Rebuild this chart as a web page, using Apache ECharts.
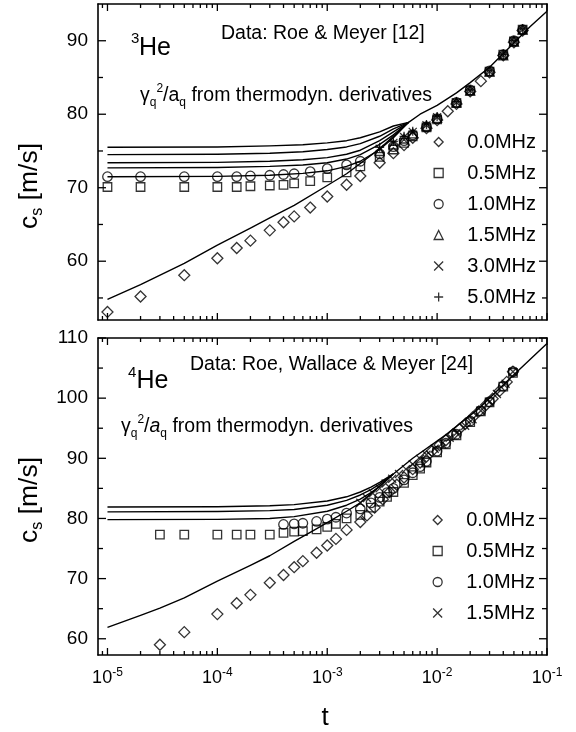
<!DOCTYPE html>
<html>
<head>
<meta charset="utf-8">
<script src="https://cdn.jsdelivr.net/npm/echarts@6/dist/echarts.min.js"></script>
<style>
html, body { margin: 0; padding: 0; background: #fff; }
#chart { width: 576px; height: 732px; }
</style>
</head>
<body>
<div id="chart"></div>
<script>
// Sound velocity c_s versus reduced temperature t for 3He (top) and 4He (bottom)
const FONT = '"Liberation Sans", Arial, Helvetica, sans-serif';

// ---- axes ----
const X_MIN = 8.2e-6, X_MAX = 0.1;
const TOP_MIN = 52, TOP_MAX = 95;
const BOT_MIN = 57.3, BOT_MAX = 110;
const yLabelsTop = [60, 70, 80, 90];
const yMinorTop = [55, 65, 75, 85];
const yLabelsBot = [60, 70, 80, 90, 100, 110];
const yMinorBot = [65, 75, 85, 95, 105];
const xMajorTicks = [1e-5, 1e-4, 1e-3, 1e-2, 1e-1];
const xMinorMultipliers = [2, 3, 4, 5, 6, 7, 8, 9];
const xDecades = [1e-5, 1e-4, 1e-3, 1e-2];
const xMinorExtra = [9e-6];

const freqTop = ['0.0MHz', '0.5MHz', '1.0MHz', '1.5MHz', '3.0MHz', '5.0MHz'];
const freqBot = ['0.0MHz', '0.5MHz', '1.0MHz', '1.5MHz'];

// ---- 3He data ----
const he3_00_t = [1e-5, 2e-5, 5e-5, 1e-4, 1.5e-4, 2e-4, 3e-4, 4e-4, 5e-4, 7e-4, 1e-3, 1.5e-3, 2e-3, 3e-3, 4e-3, 5e-3, 6e-3, 8e-3, 1e-2, 1.25e-2, 1.5e-2, 2e-2, 2.5e-2, 3e-2, 4e-2, 5e-2, 6e-2];
const he3_00_c = [53.1, 55.2, 58.1, 60.4, 61.8, 62.8, 64.2, 65.3, 66.1, 67.3, 68.8, 70.4, 71.6, 73.4, 74.7, 75.8, 76.8, 78.1, 79.2, 80.4, 81.4, 83.1, 84.5, 85.7, 88.0, 89.8, 91.4];
const he3_lo_t = [1e-5, 2e-5, 5e-5, 1e-4, 1.5e-4, 2e-4, 3e-4, 4e-4, 5e-4, 7e-4, 1e-3, 1.5e-3, 2e-3, 3e-3, 4e-3, 5e-3, 6e-3, 8e-3, 1e-2, 1.5e-2, 2e-2, 3e-2, 4e-2, 5e-2, 6e-2];
const he3_05_c = [70.1, 70.1, 70.1, 70.1, 70.1, 70.2, 70.3, 70.4, 70.6, 70.9, 71.4, 72.1, 72.9, 74.2, 75.2, 76.1, 77.0, 78.2, 79.3, 81.5, 83.2, 85.8, 88.1, 89.9, 91.5];
const he3_10_c = [71.5, 71.5, 71.5, 71.5, 71.5, 71.6, 71.7, 71.8, 71.9, 72.2, 72.6, 73.1, 73.6, 74.6, 75.6, 76.4, 77.2, 78.3, 79.4, 81.6, 83.3, 85.9, 88.1, 90.0, 91.5];
const he3_hi_t = [3e-3, 4e-3, 5e-3, 6e-3, 8e-3, 1e-2, 1.5e-2, 2e-2, 3e-2, 4e-2, 5e-2, 6e-2];
const he3_15_c = [75.0, 75.9, 76.7, 77.4, 78.4, 79.5, 81.6, 83.2, 85.8, 88.0, 89.9, 91.5];
const he3_30_c = [75.3, 76.1, 76.9, 77.6, 78.5, 79.6, 81.6, 83.2, 85.8, 88.0, 89.9, 91.5];
const he3_50_c = [75.5, 76.3, 77.0, 77.7, 78.6, 79.7, 81.7, 83.3, 85.9, 88.1, 90.0, 91.6];

// 3He model curves (gamma_q^2/a_q from thermodynamic derivatives)
const he3_fit0_t = [1e-5, 2e-5, 5e-5, 1e-4, 2e-4, 3e-4, 5e-4, 1e-3, 1.5e-3, 2e-3, 3e-3, 4e-3, 5.5e-3];
const he3_fit0_c = [54.8, 56.8, 59.7, 62.2, 64.5, 65.9, 67.6, 70.3, 71.9, 73.3, 75.3, 77.0, 78.9];
const he3_fitf_t = [1e-5, 1e-4, 3e-4, 6e-4, 1e-3, 1.5e-3, 2e-3, 3e-3, 4e-3, 5.5e-3];
const he3_fitA_c = [71.5, 71.55, 71.7, 71.95, 72.3, 72.9, 73.6, 75.2, 76.8, 78.9];
const he3_fitB_c = [72.7, 72.75, 72.9, 73.1, 73.4, 73.9, 74.5, 75.9, 77.2, 78.9];
const he3_fitC_c = [73.4, 73.45, 73.6, 73.8, 74.1, 74.55, 75.1, 76.4, 77.6, 78.9];
const he3_fitD_c = [74.5, 74.55, 74.7, 74.9, 75.2, 75.55, 76.0, 77.0, 78.0, 78.9];
const he3_fitE_c = [75.5, 75.55, 75.7, 75.85, 76.1, 76.4, 76.8, 77.6, 78.4, 78.9];
const he3_tail_t = [5.5e-3, 7e-3, 1e-2, 1.5e-2, 2e-2, 3e-2, 5e-2, 7e-2, 1e-1];
const he3_tail_c = [78.9, 80.0, 81.2, 82.9, 84.3, 86.4, 89.7, 91.9, 94.0];

// ---- 4He data ----
const he4_00_t = [3e-5, 5e-5, 1e-4, 1.5e-4, 2e-4, 3e-4, 4e-4, 5e-4, 6e-4, 8e-4, 1e-3, 1.2e-3, 1.5e-3, 2e-3, 2.3e-3, 2.7e-3, 3.2e-3, 3.7e-3, 4.3e-3, 5e-3, 6e-3, 7e-3, 8e-3, 9e-3, 1.05e-2, 1.2e-2, 1.4e-2, 1.6e-2, 1.8e-2, 2.1e-2, 2.4e-2, 2.8e-2, 3.2e-2, 3.7e-2, 4.3e-2, 4.9e-2];
const he4_00_c = [59.0, 61.1, 64.1, 65.9, 67.3, 69.3, 70.6, 71.9, 72.9, 74.3, 75.5, 76.6, 78.1, 79.4, 80.5, 81.8, 83.2, 84.4, 85.6, 86.8, 88.2, 89.3, 90.3, 91.2, 92.2, 93.0, 94.0, 94.9, 95.7, 96.8, 97.8, 98.9, 99.9, 101.2, 102.7, 104.4];
const he4_05_t = [3e-5, 5e-5, 1e-4, 1.5e-4, 2e-4, 3e-4, 4e-4, 5e-4, 6e-4, 8e-4, 1e-3, 1.2e-3, 1.5e-3, 2e-3, 2.5e-3, 3e-3, 3.5e-3, 4e-3, 5e-3, 6e-3, 7e-3, 8e-3, 1e-2, 1.2e-2, 1.5e-2, 2e-2, 2.5e-2, 3e-2, 4e-2, 4.9e-2];
const he4_05_c = [77.3, 77.3, 77.3, 77.3, 77.3, 77.3, 77.6, 77.8, 77.9, 78.2, 78.6, 79.1, 80.0, 80.6, 81.8, 82.8, 83.6, 84.4, 85.9, 87.2, 88.3, 89.3, 91.0, 92.3, 93.8, 96.0, 97.8, 99.3, 101.9, 104.2];
const he4_10_t = [4e-4, 5e-4, 6e-4, 8e-4, 1e-3, 1.2e-3, 1.5e-3, 2e-3, 2.5e-3, 3e-3, 3.5e-3, 4e-3, 5e-3, 6e-3, 7e-3, 8e-3, 1e-2, 1.2e-2, 1.5e-2, 2e-2, 2.5e-2, 3e-2, 4e-2, 4.9e-2];
const he4_10_c = [79.0, 79.1, 79.2, 79.5, 79.9, 80.2, 80.9, 81.6, 82.6, 83.5, 84.3, 85.0, 86.4, 87.6, 88.6, 89.5, 91.2, 92.5, 94.0, 96.2, 97.9, 99.4, 102.0, 104.4];
const he4_15_t = [2e-3, 2.3e-3, 2.6e-3, 3e-3, 3.4e-3, 3.9e-3, 4.5e-3, 5.2e-3, 6e-3, 7e-3, 8e-3, 9.5e-3, 1.1e-2, 1.3e-2, 1.5e-2, 1.8e-2, 2.1e-2, 2.5e-2, 3e-2, 3.5e-2, 4.2e-2, 4.9e-2];
const he4_15_c = [82.6, 83.4, 84.2, 85.0, 85.8, 86.6, 87.4, 88.2, 89.0, 89.9, 90.6, 91.6, 92.4, 93.4, 94.2, 95.4, 96.5, 97.9, 99.4, 100.7, 102.4, 104.4];

// 4He model curves
const he4_fit0_t = [1e-5, 2e-5, 3e-5, 5e-5, 1e-4, 2e-4, 3e-4, 5e-4, 7e-4, 1e-3, 1.5e-3, 2e-3, 3e-3, 4e-3];
const he4_fit0_c = [61.9, 63.9, 65.1, 66.8, 69.6, 72.2, 73.8, 76.2, 77.7, 79.3, 81.2, 82.6, 85.4, 87.4];
const he4_fitf_t = [1e-5, 1e-4, 3e-4, 5e-4, 1e-3, 1.5e-3, 2e-3, 2.5e-3, 3e-3, 4e-3];
const he4_fitA_c = [79.8, 79.85, 80.0, 80.3, 81.2, 82.2, 83.2, 84.3, 85.3, 87.4];
const he4_fitB_c = [81.1, 81.15, 81.3, 81.5, 82.2, 83.0, 83.9, 84.8, 85.7, 87.4];
const he4_fitC_c = [81.9, 81.95, 82.1, 82.3, 82.9, 83.6, 84.4, 85.2, 86.0, 87.4];
const he4_tail_t = [4e-3, 6e-3, 1.2e-2, 2.4e-2, 4.8e-2, 1e-1];
const he4_tail_c = [87.4, 90.0, 93.9, 98.3, 103.6, 109.1];

// ---- helpers ----
const zip = (t, c) => t.map((v, i) => [v, c[i]]);
const HOLLOW = { color: 'rgba(0,0,0,0)', borderColor: '#000', borderWidth: 1.3 };
const CROSS = 'path://M0,0L10,10M10,0L0,10';
const PLUS = 'path://M5,0L5,10M0,5L10,5';
const SYM_TOP = {
  '0.0MHz': ['diamond', 11], '0.5MHz': ['rect', 8.5], '1.0MHz': ['circle', 9.5],
  '1.5MHz': ['triangle', 9], '3.0MHz': [CROSS, 8], '5.0MHz': [PLUS, 9]
};
const SYM_BOT = {
  '0.0MHz': ['diamond', 11], '0.5MHz': ['rect', 8.5], '1.0MHz': ['circle', 9.5], '1.5MHz': [CROSS, 8]
};
// series names carry a panel tag after '|'; the legends print only the frequency
const tag = (f, g) => f + '|' + (g === 0 ? '3He' : '4He');

function scatter(freq, grid, data) {
  const s = (grid === 0 ? SYM_TOP : SYM_BOT)[freq];
  return {
    type: 'scatter', name: tag(freq, grid), data,
    xAxisIndex: grid * 2, yAxisIndex: grid * 2,
    symbol: s[0], symbolSize: s[1],
    itemStyle: HOLLOW, silent: true, z: 3
  };
}
function curve(grid, data) {
  return {
    type: 'line', name: 'model', data,
    xAxisIndex: grid * 2, yAxisIndex: grid * 2,
    symbol: 'none', smooth: false,
    lineStyle: { color: '#000', width: 1.4, join: 'round' }, silent: true, z: 2
  };
}

// frame ticks drawn inward on all four sides of a panel
const xMinorTicks = xMinorExtra.concat(...xDecades.map(d => xMinorMultipliers.map(m => m * d)));
function tickData(yLo, yMajor, yMinor) {
  return [].concat(
    xMajorTicks.map(t => [t, yLo, 0]),
    xMinorTicks.map(t => [t, yLo, 1]),
    yMajor.map(v => [X_MIN, v, 2]),
    yMinor.map(v => [X_MIN, v, 3])
  );
}
function tickSeries(grid, yLo, yMajor, yMinor) {
  return {
    type: 'custom', name: 'ticks', silent: true, z: 5,
    xAxisIndex: grid * 2, yAxisIndex: grid * 2,
    data: tickData(yLo, yMajor, yMinor),
    renderItem: function (params, api) {
      const cs = params.coordSys;
      const kind = api.value(2);
      const st = { stroke: '#000', lineWidth: 1.3 };
      const out = [];
      if (kind < 2) {
        const len = kind === 0 ? 7 : 4;
        const px = api.coord([api.value(0), yLo])[0];
        const yb = cs.y + cs.height, yt = cs.y;
        out.push({ type: 'line', shape: { x1: px, y1: yb, x2: px, y2: yb - len }, style: st });
        out.push({ type: 'line', shape: { x1: px, y1: yt, x2: px, y2: yt + len }, style: st });
      } else {
        const len = kind === 2 ? 8 : 5;
        const py = api.coord([X_MIN, api.value(1)])[1];
        const xl = cs.x, xr = cs.x + cs.width;
        out.push({ type: 'line', shape: { x1: xl, y1: py, x2: xl + len, y2: py }, style: st });
        out.push({ type: 'line', shape: { x1: xr, y1: py, x2: xr - len, y2: py }, style: st });
      }
      return { type: 'group', children: out };
    }
  };
}

const AXIS_LINE = { show: true, onZero: false, lineStyle: { color: '#000', width: 1.6 } };
function xAxis(grid, pos, showLabels) {
  return {
    type: 'log', logBase: 10, gridIndex: grid, position: pos,
    min: X_MIN, max: X_MAX,
    axisLine: AXIS_LINE, axisTick: { show: false }, minorTick: { show: false },
    splitLine: { show: false }, minorSplitLine: { show: false },
    axisLabel: showLabels ? {
      show: true, margin: 12, color: '#000',
      formatter: function (v) {
        const e = Math.log10(v);
        const r = Math.round(e);
        if (Math.abs(e - r) > 1e-6) return '';
        return '{b|10}{s|' + r + '}';
      },
      rich: {
        b: { fontSize: 18, lineHeight: 22, fontFamily: FONT, color: '#000' },
        s: { fontSize: 12, lineHeight: 12, verticalAlign: 'top', fontFamily: FONT, color: '#000' }
      }
    } : { show: false }
  };
}
function yAxis(grid, pos, min, max, labels) {
  return {
    type: 'value', gridIndex: grid, position: pos, min, max,
    axisLine: AXIS_LINE, axisTick: { show: false }, splitLine: { show: false },
    axisLabel: labels ? {
      show: true, customValues: labels, margin: 10,
      fontSize: 19, fontFamily: FONT, color: '#000'
    } : { show: false }
  };
}

// rich text pieces
const RICH = {
  n: { fontSize: 19.5, lineHeight: 26, fontFamily: FONT, fill: '#000' },
  ni: { fontSize: 19.5, lineHeight: 26, fontFamily: FONT, fontStyle: 'italic', fill: '#000' },
  sub: { fontSize: 12, lineHeight: 12, verticalAlign: 'bottom', fontFamily: FONT, fill: '#000' },
  sup: { fontSize: 12, lineHeight: 12, verticalAlign: 'top', fontFamily: FONT, fill: '#000' },
  big: { fontSize: 26.5, lineHeight: 32, fontFamily: FONT, fill: '#000' },
  bsub: { fontSize: 16, lineHeight: 16, verticalAlign: 'bottom', fontFamily: FONT, fill: '#000' }
};
function label(x, y, text, opts) {
  opts = opts || {};
  return {
    type: 'text', x: x, y: y, rotation: opts.rotation || 0, silent: true, z: 10,
    style: {
      text: text, rich: RICH,
      fontSize: opts.fontSize || 19.5, fontFamily: FONT, fill: '#000',
      align: opts.align || 'left', verticalAlign: 'middle'
    }
  };
}

const chart = echarts.init(document.getElementById('chart'), null, { renderer: 'canvas' });

const series = [
  // 3He panel
  curve(0, zip(he3_fit0_t, he3_fit0_c)),
  curve(0, zip(he3_fitf_t, he3_fitA_c)),
  curve(0, zip(he3_fitf_t, he3_fitB_c)),
  curve(0, zip(he3_fitf_t, he3_fitC_c)),
  curve(0, zip(he3_fitf_t, he3_fitD_c)),
  curve(0, zip(he3_fitf_t, he3_fitE_c)),
  curve(0, zip(he3_tail_t, he3_tail_c)),
  scatter('0.0MHz', 0, zip(he3_00_t, he3_00_c)),
  scatter('0.5MHz', 0, zip(he3_lo_t, he3_05_c)),
  scatter('1.0MHz', 0, zip(he3_lo_t, he3_10_c)),
  scatter('1.5MHz', 0, zip(he3_hi_t, he3_15_c)),
  scatter('3.0MHz', 0, zip(he3_hi_t, he3_30_c)),
  scatter('5.0MHz', 0, zip(he3_hi_t, he3_50_c)),
  tickSeries(0, TOP_MIN, yLabelsTop, yMinorTop),
  // 4He panel
  curve(1, zip(he4_fit0_t, he4_fit0_c)),
  curve(1, zip(he4_fitf_t, he4_fitA_c)),
  curve(1, zip(he4_fitf_t, he4_fitB_c)),
  curve(1, zip(he4_fitf_t, he4_fitC_c)),
  curve(1, zip(he4_tail_t, he4_tail_c)),
  scatter('0.0MHz', 1, zip(he4_00_t, he4_00_c)),
  scatter('0.5MHz', 1, zip(he4_05_t, he4_05_c)),
  scatter('1.0MHz', 1, zip(he4_10_t, he4_10_c)),
  scatter('1.5MHz', 1, zip(he4_15_t, he4_15_c)),
  tickSeries(1, BOT_MIN, yLabelsBot, yMinorBot)
];

const legendCommon = {
  orient: 'vertical', padding: 0, itemGap: 11, itemWidth: 9, itemHeight: 9,
  selectedMode: false,
  formatter: name => name.split('|')[0],
  itemStyle: { color: 'rgba(0,0,0,0)', borderColor: '#000', borderWidth: 1.3 },
  textStyle: { fontSize: 20, lineHeight: 20, fontFamily: FONT, color: '#000', padding: [0, 0, 0, 19] }
};

chart.setOption({
  animation: false,
  backgroundColor: '#fff',
  textStyle: { fontFamily: FONT },
  grid: [
    { left: 98, top: 4, width: 449, height: 316, outerBoundsMode: 'none', containLabel: false },
    { left: 98, top: 338, width: 449, height: 317, outerBoundsMode: 'none', containLabel: false }
  ],
  xAxis: [xAxis(0, 'bottom', false), xAxis(0, 'top', false), xAxis(1, 'bottom', true), xAxis(1, 'top', false)],
  yAxis: [
    yAxis(0, 'left', TOP_MIN, TOP_MAX, yLabelsTop), yAxis(0, 'right', TOP_MIN, TOP_MAX, null),
    yAxis(1, 'left', BOT_MIN, BOT_MAX, yLabelsBot), yAxis(1, 'right', BOT_MIN, BOT_MAX, null)
  ],
  legend: [
    Object.assign({}, legendCommon, { data: freqTop.map(f => tag(f, 0)), left: 433.5, top: 132 }),
    Object.assign({}, legendCommon, { data: freqBot.map(f => tag(f, 1)), left: 432.5, top: 510 })
  ],
  graphic: [
    // 3He panel annotations
    label(131, 39, '3', { fontSize: 15 }),
    label(139, 48.5, 'He', { fontSize: 25 }),
    label(221, 33.5, 'Data: Roe & Meyer [12]'),
    label(140, 96, '{n|\u03b3}{sub|q}{sup|2}{n|/a}{sub|q}{n| from thermodyn. derivatives}'),
    // 4He panel annotations
    label(128, 372.5, '4', { fontSize: 15 }),
    label(136.5, 381.5, 'He', { fontSize: 25 }),
    label(190, 365, 'Data: Roe, Wallace & Meyer [24]'),
    label(121, 427, '{n|\u03b3}{sub|q}{sup|2}{n|/}{ni|a}{sub|q}{n| from thermodyn. derivatives}'),
    // axis titles
    label(30, 186, '{big|c}{bsub|s}{big| [m/s]}', { align: 'center', rotation: Math.PI / 2 }),
    label(30, 500, '{big|c}{bsub|s}{big| [m/s]}', { align: 'center', rotation: Math.PI / 2 }),
    label(325, 718, 't', { fontSize: 26, align: 'center' })
  ],
  series: series
});
</script>
</body>
</html>
